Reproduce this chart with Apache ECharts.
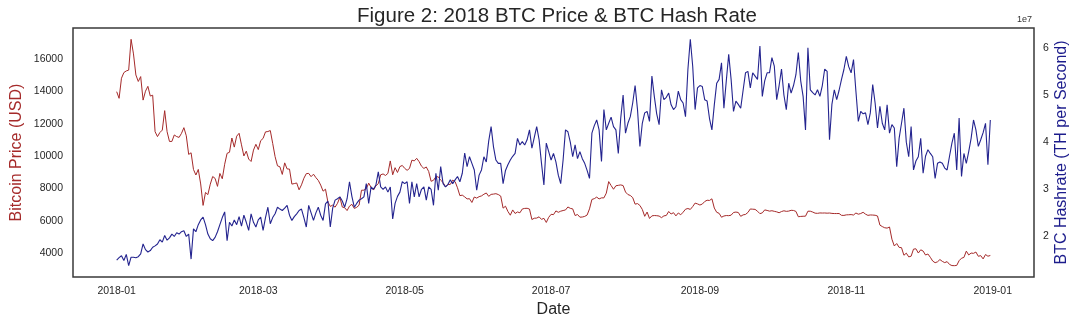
<!DOCTYPE html>
<html><head><meta charset="utf-8">
<script src="https://cdn.jsdelivr.net/npm/echarts@6/dist/echarts.min.js"></script>
<style>html,body{margin:0;padding:0;background:#fff}#c{width:1080px;height:322px}</style>
</head><body><div id="c"></div>
<script>
// ---- data ----
const startDate = '2018-01-01';
const xTickLabels = ['2018-01','2018-03','2018-05','2018-07','2018-09','2018-11','2019-01'];
const priceTicks = [4000, 6000, 8000, 10000, 12000, 14000, 16000];
const hashTicks = [2, 3, 4, 5, 6];
// daily BTC price (USD), 2018-01-01 .. 2018-12-31
const btcPrice = [
13970,13560,14800,15150,15250,15300,17200,16300,15000,14600,
14900,13450,14000,14300,13700,13750,11500,11200,11450,11600,
12800,11500,10900,10900,11300,11200,11150,11400,11750,11250,
10100,10200,9170,8830,9174,8277,6955,7754,7621,8265,
8736,8621,8129,8926,8598,9494,10166,10233,11112,10551,
11225,11403,10690,10005,10301,9813,9664,10366,10725,10397,
10951,11086,11489,11512,11573,10779,9965,9395,9337,8866,
9578,9205,9194,8269,8300,8338,7917,8223,8630,8913,
8930,8728,8879,8669,8496,8209,7834,7954,7165,6891,
6973,6845,7083,7456,6853,6811,6636,6911,7023,6770,
6834,6968,7889,7895,7986,8329,8058,7902,8163,8294,
8845,8895,8802,8930,9697,8845,9281,8987,9348,9419,
9240,9119,9235,9744,9700,9858,9654,9373,9234,9325,
9044,8441,8505,8723,8716,8510,8368,8094,8250,8247,
8513,8419,8041,7557,7587,7480,7355,7368,7135,7472,
7406,7494,7541,7643,7720,7514,7633,7653,7678,7624,
7531,6786,6906,6582,6349,6675,6456,6550,6499,6734,
6769,6776,6729,6083,6162,6173,6249,6093,6157,5903,
6218,6404,6385,6614,6529,6597,6639,6673,6857,6773,
6741,6329,6394,6228,6238,6276,6359,6741,7321,7370,
7466,7354,7419,7418,7711,8424,8181,7951,8165,8192,
8218,8180,7780,7625,7567,7434,7032,7068,6952,6706,
6281,6544,6150,6309,6329,6321,6297,6199,6308,6334,
6580,6423,6506,6308,6488,6376,6534,6719,6763,6707,
6884,7096,7047,6978,7037,7194,7273,7260,7361,6792,
6529,6467,6225,6300,6329,6321,6351,6517,6543,6517,
6281,6371,6398,6519,6734,6721,6710,6595,6446,6495,
6676,6644,6601,6625,6589,6556,6502,6576,6622,6588,
6603,6652,6642,6585,6256,6274,6285,6290,6596,6596,
6544,6476,6465,6489,6482,6487,6475,6484,6461,6453,
6452,6455,6342,6337,6371,6377,6388,6361,6485,6412,
6453,6530,6415,6340,6365,6359,6347,6301,5738,5648,
5575,5554,5623,4871,4451,4602,4365,4347,3880,4009,
3779,3820,4257,4278,4017,4214,4139,3894,3956,3753,
3521,3419,3476,3614,3502,3424,3486,3313,3243,3236,
3252,3545,3697,3745,4134,3896,4014,3998,4078,3815,
3857,3654,3923,3820,3865
];
// daily BTC hash rate, in units of 1e7 TH/s
const hashRate = [
1.50,1.55,1.59,1.49,1.62,1.38,1.56,1.56,1.55,1.57,
1.63,1.84,1.72,1.67,1.70,1.77,1.80,1.84,1.93,1.88,
2.02,1.92,1.97,2.05,2.00,2.08,2.05,2.10,2.12,2.00,
2.05,1.52,2.16,2.10,2.25,2.35,2.41,2.25,2.05,1.95,
1.91,1.98,2.10,2.25,2.40,2.52,1.91,2.30,2.22,2.35,
2.25,2.42,2.22,2.45,2.30,2.13,2.48,2.30,2.20,2.35,
2.41,2.13,2.40,2.62,2.27,2.40,2.48,2.62,2.58,2.55,
2.60,2.66,2.45,2.34,2.42,2.48,2.55,2.58,2.40,2.20,
2.66,2.50,2.34,2.50,2.62,2.45,2.34,2.69,2.75,2.20,
2.60,2.77,2.80,2.84,2.75,2.62,2.80,3.16,2.85,2.62,
2.70,2.77,2.80,2.84,3.12,2.70,3.05,3.00,3.09,3.37,
3.05,3.00,3.05,2.94,3.05,2.37,2.70,2.85,2.94,3.16,
3.12,3.16,2.70,3.16,2.84,3.12,2.84,3.00,3.05,2.77,
3.05,3.00,2.66,3.34,2.98,3.48,3.12,3.05,3.10,3.20,
3.12,3.20,3.27,3.16,3.34,3.77,3.48,3.69,3.55,3.41,
2.98,3.30,3.41,3.69,3.58,4.02,4.33,3.90,3.62,3.55,
3.55,3.12,3.40,3.52,3.62,3.70,3.76,4.08,3.94,4.01,
3.94,4.05,4.26,3.87,4.10,4.33,4.05,3.55,3.09,3.98,
3.80,3.62,3.76,3.58,3.30,3.12,3.62,4.26,4.22,4.00,
3.69,3.94,3.65,3.80,3.65,3.55,3.40,3.23,4.19,4.35,
4.47,4.26,3.59,4.69,4.26,4.40,4.53,4.33,4.26,3.76,
4.50,5.00,4.19,4.40,4.54,4.83,5.20,4.69,3.91,4.40,
4.62,4.65,4.44,5.40,4.97,4.60,4.37,5.11,4.90,4.95,
5.04,4.79,4.69,4.75,5.08,4.90,4.83,4.54,5.54,6.18,
5.61,4.69,5.15,5.20,5.18,4.90,4.87,4.50,4.26,4.79,
5.25,5.33,5.68,4.72,5.30,5.86,5.33,4.65,4.87,4.80,
4.72,5.10,5.47,5.50,5.15,5.47,5.40,5.33,6.04,4.97,
5.30,5.47,5.47,5.79,5.61,4.90,5.20,5.55,5.00,4.69,
5.25,5.04,5.20,5.43,5.90,5.30,4.97,4.26,6.00,5.11,
5.05,5.00,5.11,4.97,5.20,5.55,5.50,4.05,4.80,5.11,
4.90,5.10,5.33,5.54,5.82,5.60,5.47,5.75,5.08,4.44,
4.65,4.60,4.62,4.37,4.62,5.22,4.83,4.30,4.76,4.40,
4.26,4.79,4.19,4.37,4.30,3.48,4.08,4.40,4.72,4.00,
3.69,4.33,3.41,3.60,3.69,4.08,3.34,3.70,3.84,3.76,
3.69,3.23,3.55,3.58,3.55,3.45,3.41,3.70,3.98,4.19,
3.41,4.51,3.27,3.76,3.55,3.80,4.08,4.47,4.26,3.91,
4.05,4.20,4.40,3.52,4.47
];

// ---- build ----
const DAY = 86400000;
const sp = startDate.split('-').map(Number);
const t0 = Date.UTC(sp[0], sp[1]-1, sp[2]);
// x is "days since startDate"
const priceData = btcPrice.map((v,i)=>[i, v]);
const hashData = hashRate.map((v,i)=>[i, v]);
const xTickValues = xTickLabels.map(s=>{const p=s.split('-').map(Number);return Math.round((Date.UTC(p[0],p[1]-1,1)-t0)/DAY);});
const nDays = btcPrice.length - 1;
const xMin = -0.05*nDays, xMax = 1.05*nDays;
function pad(a,b){const r=b-a;return [a-0.05*r,b+0.05*r];}
const pr = pad(Math.min(...btcPrice), Math.max(...btcPrice));
const hr = pad(Math.min(...hashRate), Math.max(...hashRate));

const FONT = 'Liberation Sans, Arial, sans-serif';
const chart = echarts.init(document.getElementById('c'), null, {renderer:'canvas'});
chart.setOption({
  animation: false,
  backgroundColor: '#ffffff',
  title: { text: 'Figure 2: 2018 BTC Price & BTC Hash Rate', left: 352, top: 1,
    textStyle: { fontFamily: FONT, fontSize: 20.5, fontWeight: 'normal', color: '#262626' } },
  grid: { left: 73, right: 46, top: 28, bottom: 45, show: true, borderColor: '#3a3a3a', borderWidth: 1.5,
    containLabel: false, outerBoundsMode: 'none' },
  graphic: [{ type: 'text', left: 1017, top: 15, style: { text: '1e7', fontSize: 9, fontFamily: FONT, fill: '#333' } }],
  xAxis: {
    type: 'value', min: xMin, max: xMax,
    name: 'Date', nameLocation: 'middle', nameGap: 25,
    nameTextStyle: { fontFamily: FONT, fontSize: 16, color: '#262626' },
    axisLine: { show: false }, axisTick: { show: false }, splitLine: { show: false },
    axisLabel: { customValues: xTickValues, fontFamily: FONT, fontSize: 10.5, color: '#262626', margin: 9,
      formatter: function(v){ const i = xTickValues.indexOf(Math.round(v)); return i>=0 ? xTickLabels[i] : ''; } }
  },
  yAxis: [
    { type: 'value', position: 'left', min: pr[0], max: pr[1],
      name: 'Bitcoin Price (USD)', nameLocation: 'middle', nameGap: 48, nameRotate: 90, nameMoveOverlap: false,
      nameTextStyle: { fontFamily: FONT, fontSize: 16, color: '#a52a2a' },
      axisLine: { show: false }, axisTick: { show: false }, splitLine: { show: false },
      axisLabel: { customValues: priceTicks, fontFamily: FONT, fontSize: 10.5, color: '#262626', margin: 10,
        formatter: function(v){ return String(Math.round(v)); } } },
    { type: 'value', position: 'right', min: hr[0], max: hr[1],
      name: 'BTC Hashrate (TH per Second)', nameLocation: 'middle', nameGap: 20, nameRotate: 90, nameMoveOverlap: false,
      nameTextStyle: { fontFamily: FONT, fontSize: 16, color: '#1c1c8c' },
      axisLine: { show: false }, axisTick: { show: false }, splitLine: { show: false },
      axisLabel: { customValues: hashTicks, fontFamily: FONT, fontSize: 10.5, color: '#262626', margin: 9,
        formatter: function(v){ return String(Math.round(v)); } } }
  ],
  series: [
    { name: 'BTC Price', type: 'line', yAxisIndex: 0, data: priceData, showSymbol: false,
      lineStyle: { color: '#a52a2a', width: 1 }, itemStyle: { color: '#a52a2a' } },
    { name: 'BTC Hash Rate', type: 'line', yAxisIndex: 1, data: hashData, showSymbol: false,
      lineStyle: { color: '#24248f', width: 1.1 }, itemStyle: { color: '#24248f' } }
  ]
});
</script></body></html>
